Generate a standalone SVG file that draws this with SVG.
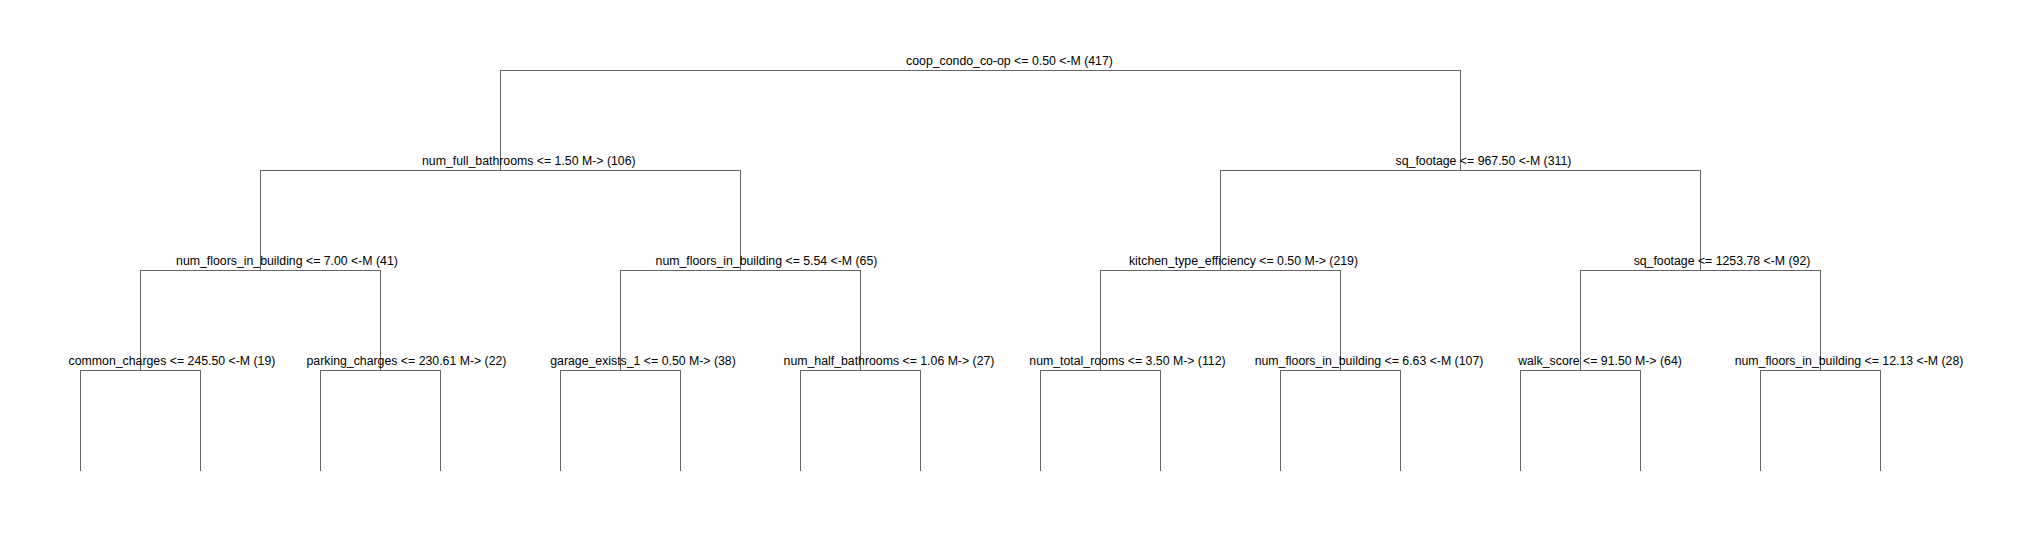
<svg xmlns="http://www.w3.org/2000/svg" width="2032" height="540" viewBox="0 0 2032 540">
<style>
.e{fill:none;stroke:#666;stroke-width:1;shape-rendering:crispEdges}
.t{font-family:"Liberation Sans",Arial,sans-serif;font-size:12.3px;fill:#000;text-anchor:middle}
</style>
<rect width="2032" height="540" fill="#fff"/>
<g id="connectors">
<path class="e" d="M980.5,70.5H500.5V170.5"/>
<path class="e" d="M980.5,70.5H1460.5V170.5"/>
<path class="e" d="M500.5,170.5H260.5V270.5"/>
<path class="e" d="M500.5,170.5H740.5V270.5"/>
<path class="e" d="M1460.5,170.5H1220.5V270.5"/>
<path class="e" d="M1460.5,170.5H1700.5V270.5"/>
<path class="e" d="M260.5,270.5H140.5V370.5"/>
<path class="e" d="M260.5,270.5H380.5V370.5"/>
<path class="e" d="M740.5,270.5H620.5V370.5"/>
<path class="e" d="M740.5,270.5H860.5V370.5"/>
<path class="e" d="M1220.5,270.5H1100.5V370.5"/>
<path class="e" d="M1220.5,270.5H1340.5V370.5"/>
<path class="e" d="M1700.5,270.5H1580.5V370.5"/>
<path class="e" d="M1700.5,270.5H1820.5V370.5"/>
<path class="e" d="M140.5,370.5H80.5V470.5"/>
<path class="e" d="M140.5,370.5H200.5V470.5"/>
<path class="e" d="M380.5,370.5H320.5V470.5"/>
<path class="e" d="M380.5,370.5H440.5V470.5"/>
<path class="e" d="M620.5,370.5H560.5V470.5"/>
<path class="e" d="M620.5,370.5H680.5V470.5"/>
<path class="e" d="M860.5,370.5H800.5V470.5"/>
<path class="e" d="M860.5,370.5H920.5V470.5"/>
<path class="e" d="M1100.5,370.5H1040.5V470.5"/>
<path class="e" d="M1100.5,370.5H1160.5V470.5"/>
<path class="e" d="M1340.5,370.5H1280.5V470.5"/>
<path class="e" d="M1340.5,370.5H1400.5V470.5"/>
<path class="e" d="M1580.5,370.5H1520.5V470.5"/>
<path class="e" d="M1580.5,370.5H1640.5V470.5"/>
<path class="e" d="M1820.5,370.5H1760.5V470.5"/>
<path class="e" d="M1820.5,370.5H1880.5V470.5"/>
</g>
<g id="n_root"><text class="t" x="1009.5" y="65">coop_condo_co-op &lt;= 0.50 &lt;-M (417)</text></g>
<g id="n_l"><text class="t" x="528.8" y="164.5">num_full_bathrooms &lt;= 1.50 M-&gt; (106)</text></g>
<g id="n_r"><text class="t" x="1483.5" y="164.5">sq_footage &lt;= 967.50 &lt;-M (311)</text></g>
<g id="n_ll"><text class="t" x="287" y="264.5">num_floors_in_building &lt;= 7.00 &lt;-M (41)</text></g>
<g id="n_lr"><text class="t" x="766.5" y="264.5">num_floors_in_building &lt;= 5.54 &lt;-M (65)</text></g>
<g id="n_rl"><text class="t" x="1243.5" y="264.5">kitchen_type_efficiency &lt;= 0.50 M-&gt; (219)</text></g>
<g id="n_rr"><text class="t" x="1722" y="264.5">sq_footage &lt;= 1253.78 &lt;-M (92)</text></g>
<g id="n_lll"><text class="t" x="172" y="364.5">common_charges &lt;= 245.50 &lt;-M (19)</text></g>
<g id="n_llr"><text class="t" x="406.5" y="364.5">parking_charges &lt;= 230.61 M-&gt; (22)</text></g>
<g id="n_lrl"><text class="t" x="643" y="364.5">garage_exists_1 &lt;= 0.50 M-&gt; (38)</text></g>
<g id="n_lrr"><text class="t" x="889" y="364.5">num_half_bathrooms &lt;= 1.06 M-&gt; (27)</text></g>
<g id="n_rll"><text class="t" x="1127.5" y="364.5">num_total_rooms &lt;= 3.50 M-&gt; (112)</text></g>
<g id="n_rlr"><text class="t" x="1369" y="364.5">num_floors_in_building &lt;= 6.63 &lt;-M (107)</text></g>
<g id="n_rrl"><text class="t" x="1600" y="364.5">walk_score &lt;= 91.50 M-&gt; (64)</text></g>
<g id="n_rrr"><text class="t" x="1849" y="364.5">num_floors_in_building &lt;= 12.13 &lt;-M (28)</text></g>
</svg>
